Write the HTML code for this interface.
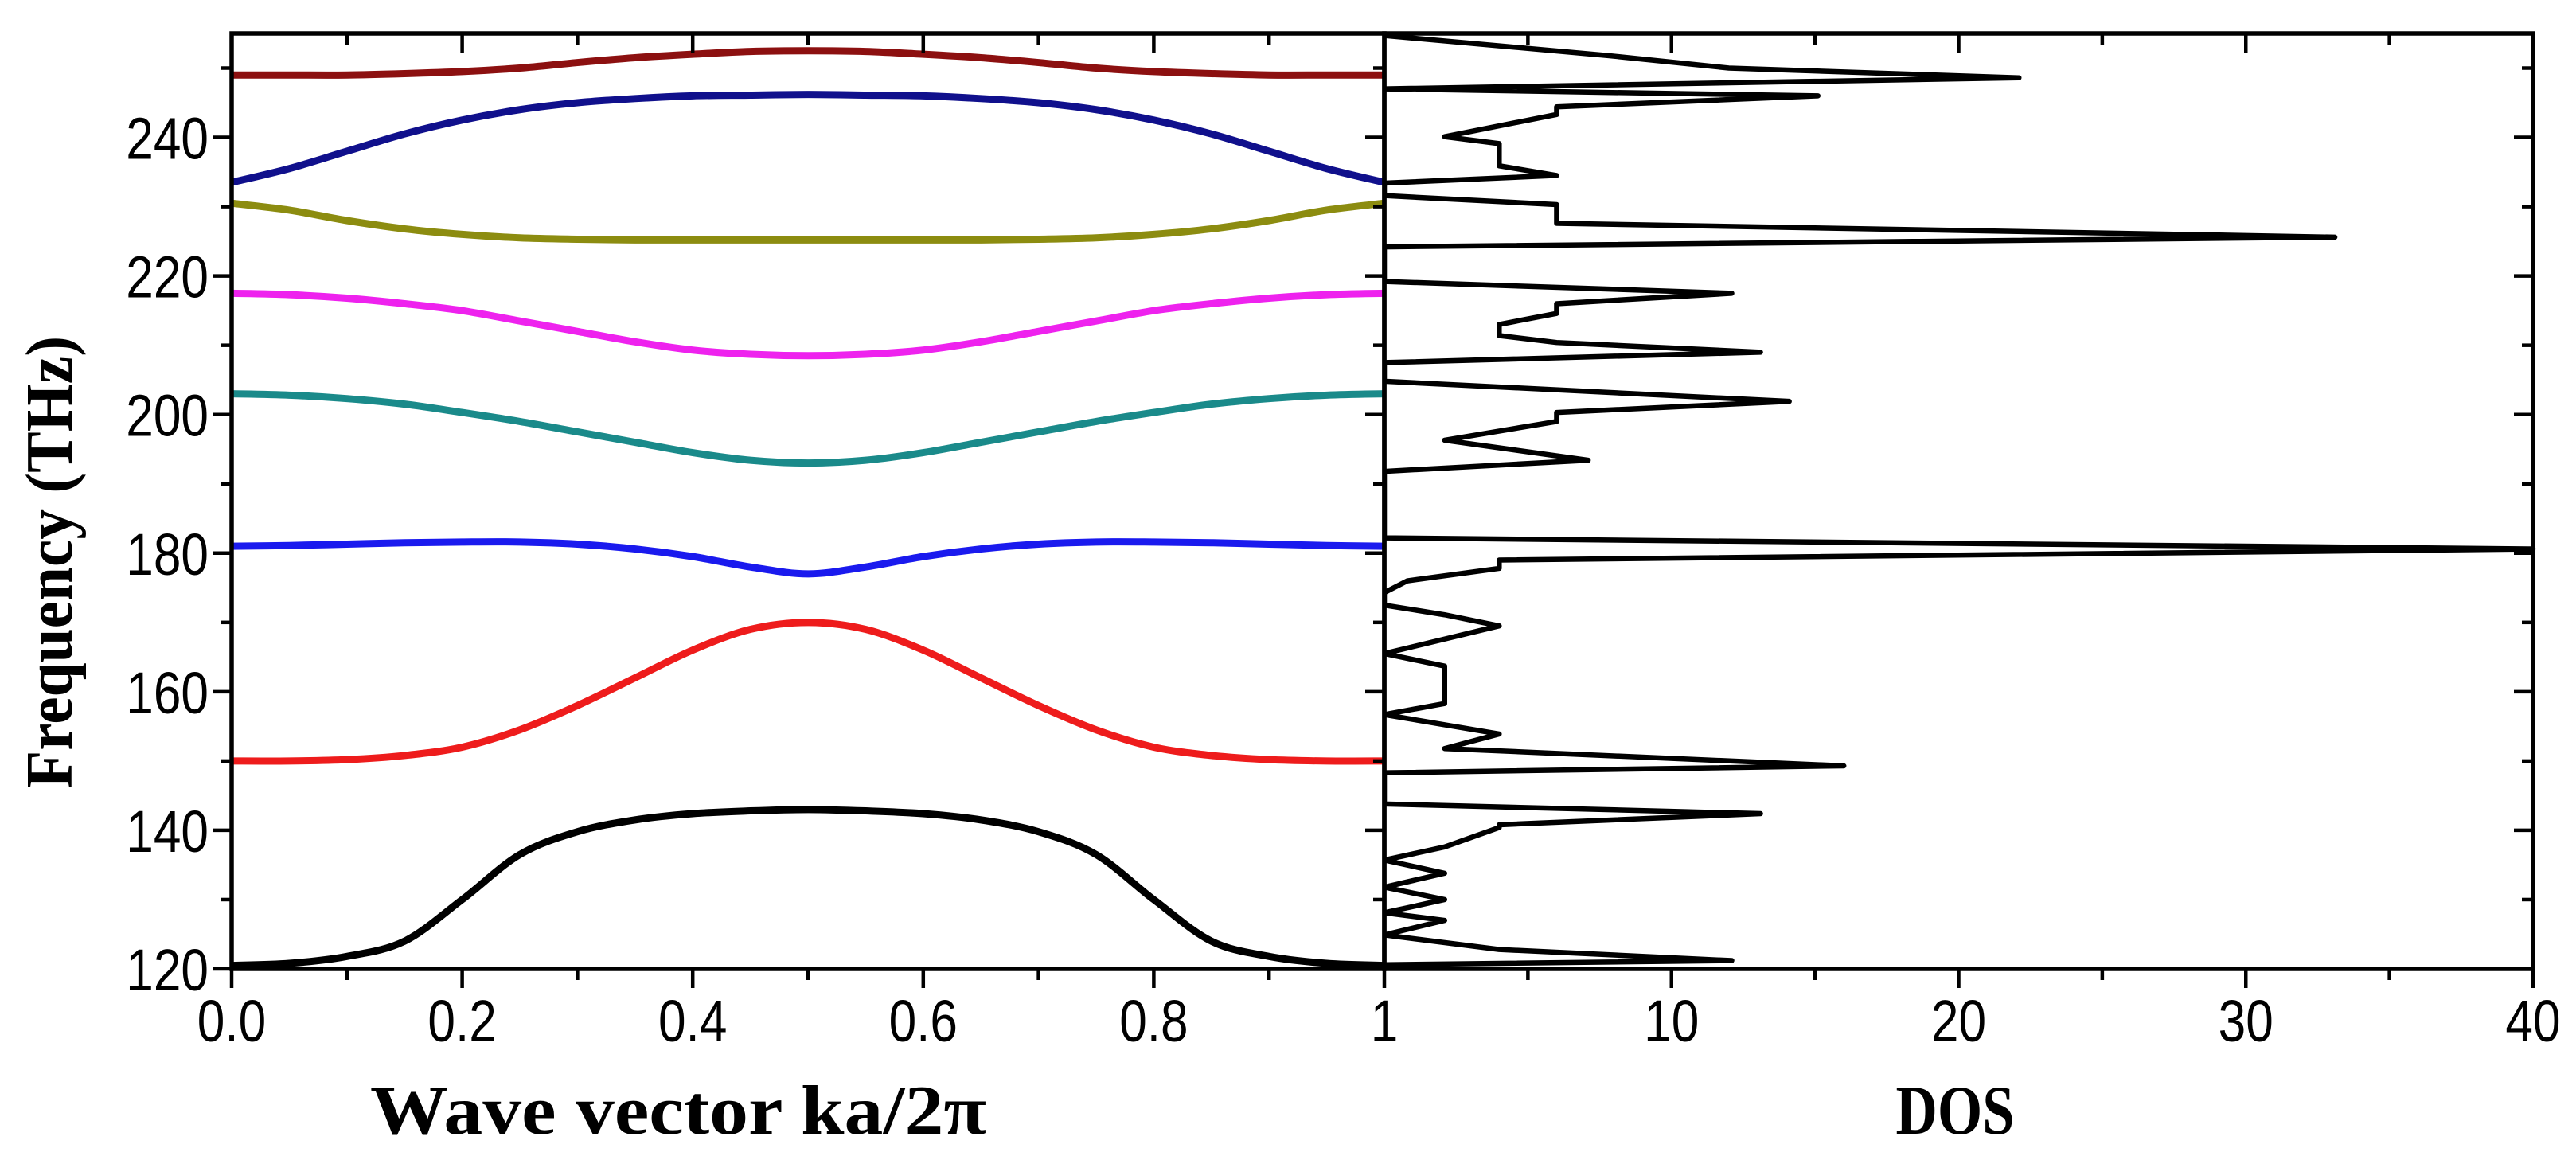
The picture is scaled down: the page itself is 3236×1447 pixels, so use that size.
<!DOCTYPE html>
<html><head><meta charset="utf-8"><style>
html,body{margin:0;padding:0;background:#fff;}
svg{display:block;}
</style></head><body>
<svg id="chart" width="3236" height="1447" viewBox="0 0 3236 1447" xmlns="http://www.w3.org/2000/svg"></svg>
<script>
const kValues = [0,0.05,0.1,0.15,0.2,0.25,0.3,0.35,0.4,0.45,0.5,0.55,0.6,0.65,0.7,0.75,0.8,0.85,0.9,0.95,1];
const band1 = [120.5,120.8,121.8,124,130,136.5,139.8,141.5,142.4,142.8,143,142.8,142.4,141.5,139.8,136.5,130,124,121.8,120.8,120.5];
const band2 = [150,150,150.2,150.8,152,154.5,158,162,166,169,170,169,166,162,158,154.5,152,150.8,150.2,150,150];
const band3 = [181,181.1,181.3,181.5,181.6,181.6,181.3,180.6,179.5,178,177,178,179.5,180.6,181.3,181.6,181.6,181.5,181.3,181.1,181];
const band4 = [203,202.8,202.3,201.5,200.3,199,197.5,196,194.5,193.4,193,193.4,194.5,196,197.5,199,200.3,201.5,202.3,202.8,203];
const band5 = [217.5,217.3,216.8,216,215,213.5,212,210.5,209.3,208.7,208.5,208.7,209.3,210.5,212,213.5,215,216,216.8,217.3,217.5];
const band6 = [230.5,229.5,228,226.8,226,225.5,225.3,225.2,225.2,225.2,225.2,225.2,225.2,225.2,225.3,225.5,226,226.8,228,229.5,230.5];
const band7 = [233.5,235.5,238,240.5,242.5,244,245,245.6,246,246.1,246.2,246.1,246,245.6,245,244,242.5,240.5,238,235.5,233.5];
const band8 = [249,249,249,249.2,249.5,250,250.8,251.5,252,252.4,252.5,252.4,252,251.5,250.8,250,249.5,249.2,249,249,249];
const bandColors = ["#000000","#ee1c1c","#1a1aee","#1a8a8a","#ee22ee","#8c8c10","#10108c","#8c1010"];
const dosValues = [0,0,12.1,4,0,2.1,0,2.1,0,2.1,0,2.1,4,4,13.1,0,0,16,2.1,4,0,2.1,2.1,0,4,2.1,0,0,0.8,4,4,40,0,0,7.1,2.1,6,6,14.1,0,0,13.1,6,4,4,6,6,12.1,0,0,33.1,6,6,0,0,6,4,4,2.1,6,6,15.1,0,22.1,12,7.8,0];
const dosFreq = [120,120.6,121.2,122.8,124.9,127,128.1,130,131.8,133.8,135.7,137.6,140.4,140.8,142.4,143.8,148.3,149.3,151.8,153.9,156.7,158.3,163.7,165.5,169.5,171.1,172.5,174.3,176,177.8,179,180.6,182.2,191.8,193.4,196.3,199,200.3,201.9,204.8,207.5,209,210.4,211.4,213,214.6,216,217.5,219.2,224.2,225.6,227.6,230.3,231.6,233.4,234.5,235.9,239.1,240.1,243.3,244.4,246,247,248.6,250,251.8,254.7];
const kTicks = [0,0.2,0.4,0.6,0.8];
const kTickLabels = ["0.0","0.2","0.4","0.6","0.8"];
const freqTicks = [120,140,160,180,200,220,240];
const dosTicks = [1,10,20,30,40];
const dosTickLabels = ["1","10","20","30","40"];

const NS="http://www.w3.org/2000/svg";
const svg=document.getElementById('chart');
const L=291, M=1739, R=3182, T=42, B=1217;
const fMin=120, fMax=255;
const xK=k=>L+(M-L)*k;
const xD=d=>M+(R-M)*d/40;
const yF=f=>B-(B-T)*(f-fMin)/(fMax-fMin);
function el(tag,attrs,parent){const e=document.createElementNS(NS,tag);for(const a in attrs)e.setAttribute(a,attrs[a]);(parent||svg).appendChild(e);return e;}
function smooth(pts){let d=`M${pts[0][0]},${pts[0][1]}`;for(let i=0;i<pts.length-1;i++){const p0=pts[Math.max(i-1,0)],p1=pts[i],p2=pts[i+1],p3=pts[Math.min(i+2,pts.length-1)];
const c1x=p1[0]+(p2[0]-p0[0])/6,c1y=p1[1]+(p2[1]-p0[1])/6,c2x=p2[0]-(p3[0]-p1[0])/6,c2y=p2[1]-(p3[1]-p1[1])/6;d+=` C${c1x},${c1y} ${c2x},${c2y} ${p2[0]},${p2[1]}`;}return d;}

el('defs',{}).innerHTML='<clipPath id="cl"><rect x="'+L+'" y="'+T+'" width="'+(M-L)+'" height="'+(B-T)+'"/></clipPath><clipPath id="cr"><rect x="'+M+'" y="'+T+'" width="'+(R-M+30)+'" height="'+(B-T)+'"/></clipPath>';

const bands=[band1,band2,band3,band4,band5,band6,band7,band8];
const gb=el('g',{'clip-path':'url(#cl)'});


bands.forEach((b,i)=>{
  const p=el('path',{d:smooth(kValues.map((k,j)=>[xK(k),yF(b[j])])),fill:'none',stroke:bandColors[i],'stroke-width':9,'stroke-linejoin':'round'},gb);
  
  
});
const gd=el('g',{'clip-path':'url(#cr)'});


const dl=el('polyline',{points:dosValues.map((d,i)=>xD(d)+','+yF(dosFreq[i])).join(' '),fill:'none',stroke:'#000','stroke-width':6.5,'stroke-linejoin':'round'},gd);



const fr1=el('rect',{x:L,y:T,width:M-L,height:B-T,fill:'none',stroke:'#000','stroke-width':5.5});


const fr2=el('rect',{x:M,y:T,width:R-M,height:B-T,fill:'none',stroke:'#000','stroke-width':5.5});



const ticks=el('g',{stroke:'#000','stroke-width':4.5});


for(let i=0;i<=10;i++){const x=xK(i/10);const major=i%2===0;
  el('line',{x1:x,y1:B,x2:x,y2:B+(major?24:14)},ticks);
  el('line',{x1:x,y1:T,x2:x,y2:T+(major?24:14)},ticks);}
for(let f=120;f<=250;f+=10){const y=yF(f);const major=f%20===0;
  el('line',{x1:L,y1:y,x2:L-(major?24:14),y2:y},ticks);
  el('line',{x1:M,y1:y,x2:M-(major?24:14),y2:y},ticks);
  el('line',{x1:R,y1:y,x2:R-(major?24:14),y2:y},ticks);}
for(let d=5;d<=40;d+=5){const x=xD(d);const major=d%10===0;
  el('line',{x1:x,y1:B,x2:x,y2:B+(major?24:14)},ticks);
  el('line',{x1:x,y1:T,x2:x,y2:T+(major?24:14)},ticks);}

function txt(s,attrs,name){const t=el('text',Object.assign({x:0,y:0,'font-family':'"Liberation Sans", sans-serif','font-size':74,fill:'#000'},attrs));t.textContent=s;return t;}
kTicks.forEach((k,i)=>{txt(kTickLabels[i],{'text-anchor':'middle',transform:`translate(${xK(k)},1308) scale(0.84,1)`},'x-tick-label');});
dosTicks.forEach((d,i)=>{const x=d===1?M:xD(d);txt(dosTickLabels[i],{'text-anchor':'middle',transform:`translate(${x},1308) scale(0.84,1)`},'dos-tick-label');});
freqTicks.forEach(f=>{txt(String(f),{'text-anchor':'end',transform:`translate(262,${yF(f)+27}) scale(0.84,1)`},'y-tick-label');});

const serif='"Liberation Serif", serif';
const yt=el('text',{x:0,y:0,transform:'translate(90,706) rotate(-90)','text-anchor':'middle','font-family':serif,'font-weight':'bold','font-size':84,textLength:568,lengthAdjust:'spacingAndGlyphs'});
yt.textContent='Frequency (THz)';


const xt=el('text',{x:852,y:1424,'text-anchor':'middle','font-family':serif,'font-weight':'bold','font-size':88,textLength:774,lengthAdjust:'spacingAndGlyphs'});
xt.textContent='Wave vector ka/2π';


const dt=el('text',{x:2456,y:1424,'text-anchor':'middle','font-family':serif,'font-weight':'bold','font-size':88,textLength:149,lengthAdjust:'spacingAndGlyphs'});
dt.textContent='DOS';


</script>
</body></html>
